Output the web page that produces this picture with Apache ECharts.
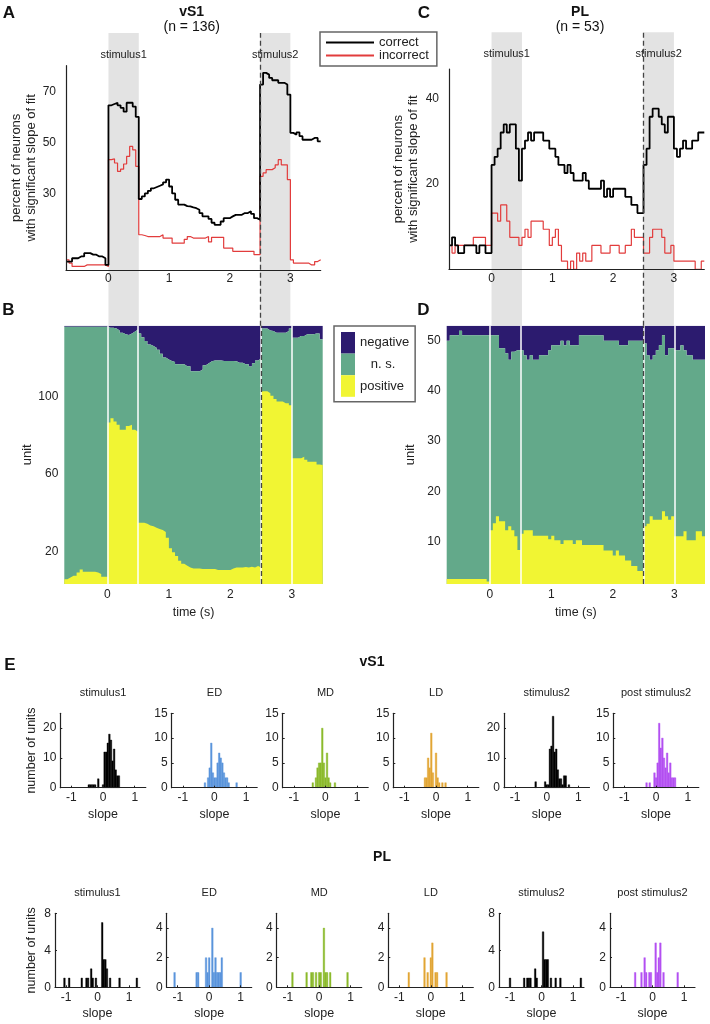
<!DOCTYPE html>
<html><head><meta charset="utf-8">
<script src="https://cdn.jsdelivr.net/npm/echarts@6/dist/echarts.min.js"></script>
<style>html,body{margin:0;padding:0;background:#fff}#c{width:710px;height:1024px}</style>
</head><body><div id="c"></div>
<script>
// ---------- time bins (bin starts, 50 ms) ----------
const binStarts = Array.from({length: 84}, (_, i) => Math.round((-0.7 + 0.05 * i) * 100) / 100);
const tEnd = 3.5;
const timeTicks = [0, 1, 2, 3];
const stimWindows = [[0, 0.5], [2.5, 3.0]];
const stimNames = ['stimulus1', 'stimulus2'];
const stim2Onset = 2.5;
const heatBoundaries = [0, 0.5, 2.5, 3.0];

// ---------- panel A (vS1, percent significant) ----------
const vS1Correct = [3.3,3.3,4.6,4.6,5.3,5.3,6.6,6.6,6,6,5.3,5.3,4.6,2,
  64.5,65,65.5,64.5,63.5,62,65.5,65.5,64,60,
  27.8,28.8,30,31,32,32.5,33,33.5,34.3,35.4,
  32.7,30,27.5,25.6,25.6,25,24.9,24.5,24.2,23.6,
  22.3,21,21,20,18.5,17.7,17.7,19,20.3,20.3,
  21,21.6,21.6,21.6,22.3,22.3,23,22,20.3,19.7,
  72.6,77.2,76.5,75.2,74.3,74.3,73.3,73.3,72.6,68.7,
  53.7,53,53.9,52.4,51,51,51,51.7,51.7,50.4];
const vS1Incorrect = [4,2.7,1.4,1.4,1.4,1.4,2,2,2,2,2,2,2,1.4,
  43.2,43.5,41.9,38.6,39.5,41.5,44.5,48.4,47,40.6,
  13.8,13.5,13.1,13.1,13.1,13.1,13.1,13.8,12.5,12.5,
  12.5,10.5,10.5,10.5,10.5,12,13.1,12.5,12.5,12.5,
  12.5,12.5,13.1,11,12.8,12.8,12.8,12.8,8.6,8.6,
  8.6,7.3,7.3,7.3,7.3,7.3,7.3,7.3,6,6,
  36.7,38,39.3,39.3,40,41.2,43.2,41.2,41.2,35.4,
  4,2.7,2.7,2.7,2.7,2.7,2,2,3.3,4];
const vS1PctTicks = [30, 50, 70];

// ---------- panel C (PL, percent significant) ----------
const plCorrect = [5.6,7.5,5.6,3.8,3.8,5.6,5.6,5.6,5.6,3.8,5.6,5.6,3.8,3.8,
  24.5,26.4,28.3,32.1,34,32.1,34,34,28.3,20.8,
  28.3,30.2,32.1,30.2,32.1,32.1,32.1,30.2,30.2,28.3,
  28.3,26.4,24.5,24.5,22.6,24.5,22.6,20.8,20.8,20.8,
  22.6,20.8,18.9,18.9,18.9,18.9,20.8,17,18.9,17,
  18.9,18.9,18.9,18.9,17,17,15.1,15.1,13.2,13.2,
  24.5,28.3,35.8,37.7,37.7,35.8,34,32.1,35.8,35.8,
  28.3,26.4,28.3,30.2,28.3,28.3,30.2,30.2,32.1,32.1];
const plIncorrect = [5.6,3.8,5.6,5.6,5.6,5.6,5.6,5.6,7.5,7.5,7.5,7.5,5.6,5.6,
  13.2,13.2,11.3,15.1,15.1,11.3,7.5,7.5,7.5,5.6,
  7.5,9.4,7.5,11.3,11.3,11.3,11.3,9.4,9.4,5.6,
  7.5,9.4,5.6,1.9,1.9,0,1.9,0,3.8,1.9,
  3.8,1.9,1.9,5.6,5.6,5.6,3.8,3.8,3.8,5.6,
  5.6,5.6,3.8,3.8,5.6,5.6,9.4,7.5,7.5,7.5,
  3.8,3.8,7.5,9.4,9.4,9.4,7.5,3.8,3.8,5.6,
  1.9,1.9,1.9,1.9,1.9,1.9,1.9,0,0,1.9];
const plPctTicks = [20, 40];

// ---------- panel B (vS1 units): boundaries on the unit axis ----------
const vS1PosTop = [5.4,6.4,7.3,7.3,9,10.5,9.4,9.4,9.4,9.4,9,8.2,6.8,6.8,
  86.8,89,87.3,85.6,83,83,85,85.6,83,82,
  34.8,34.8,34.3,33.4,33,32.2,31.5,31,30,27,
  21.5,19.5,17.5,15,13.5,12.5,11.5,11,11,11,
  10.8,10.8,10.8,10.8,10.8,10.3,10.3,10.3,10.3,10.3,
  11,11.5,11.5,11.5,11.8,11.5,12,11.5,12.3,11.5,
  103,103,102,100.7,99,97.7,97.7,96.8,96.8,95.7,
  68.2,68.2,68.2,69,67.5,66.4,66.4,66.4,65,64.7];
const vS1NegBottom = [136.5,136.5,136.5,136.5,136.5,136.5,136.5,136.5,136.5,136.5,136.5,136.5,136.5,136.5,
  136,136,135.5,134.5,133.4,132.5,132.2,133,134,135,
  133,131,129,127.3,126.5,125.6,124.5,122.5,120.5,119.5,
  118.7,118.2,117,117,117,116,116,113.4,113.4,113.4,
  114.3,116.5,117.5,118.5,119,119,119,118.7,118.7,118.7,
  118.7,118.5,117.8,117.8,117,117,115.8,117.5,119,120,
  135.5,135.5,134.5,134.3,133.4,133.4,133.4,133.4,134.3,135.5,
  130.8,130.8,131.7,131.7,132.5,132.5,132.5,133,133,130];
const vS1UnitTicks = [20, 60, 100];

// ---------- panel D (PL units) ----------
const plPosTop = [2.5,2.5,2.5,2.5,2.5,2.5,2.5,2.5,2.5,2.5,2.5,2.5,2.5,2.0,
  12.2,13.6,15,14,14,12.2,13,12.2,11,8.3,
  11.5,12.2,12.2,12.2,11.1,11.1,11.1,11.1,11.1,10.4,
  11.1,10.2,10.2,9.5,10.2,10.2,10.2,9.5,10.2,10.2,
  9.3,9.3,9.3,9.3,9.3,9.3,9.3,8.2,8.2,8.2,
  7.2,8.2,7.2,7.2,6.2,6.2,5.1,5.1,4.1,4.1,
  13,13.5,15,14.3,14.3,14.3,16,15,14.3,15,
  11,11,11,12,10.2,10.2,10.2,12,12,11];
const plNegBottom = [50,51.1,51.1,51.1,52,51.1,51.1,51.1,51.1,51.1,51.1,51.1,51.1,51.1,
  51.1,51.1,51.1,48.5,48.5,47.5,46.2,47.8,48.1,48.1,
  48.1,47.1,46.2,47.1,46.2,46.2,47.1,47.1,47.1,48.1,
  49.1,49.1,49.1,50,49.1,50,49.1,49.1,49.1,51.1,
  51.1,51.1,51.1,51.1,51.1,51.1,51.1,50,50,50,
  50,50,49.1,49.1,49.1,50,50,50,50,50,
  49.5,47.1,46.2,47.1,48.1,49.1,51.1,47.1,48.5,48.5,
  48.1,48.1,49.1,48.1,47.1,47.1,46.2,46.2,46.2,46.2];
const plUnitTicks = [10, 20, 30, 40, 50];

// ---------- panel E histograms: [slope bin centre, number of units] ----------
const histTitles = ['stimulus1', 'ED', 'MD', 'LD', 'stimulus2', 'post stimulus2'];
const slopeTicks = [-1, 0, 1];
const vS1_stim1 = [[-0.45,1],[-0.4,1],[-0.35,1],[-0.3,1],[-0.25,1],[-0.15,3],[0,1],[0.05,12],[0.1,12],[0.15,15],[0.2,18],[0.25,16],[0.3,9],[0.35,13],[0.4,6],[0.45,4],[0.5,4]];
const vS1_ED = [[-0.3,1],[-0.2,2],[-0.15,4],[-0.1,9],[-0.05,3],[0,2],[0.05,2],[0.1,5],[0.15,7],[0.2,6],[0.25,5],[0.3,3],[0.35,2],[0.4,2],[0.45,1],[0.7,1]];
const vS1_MD = [[-0.4,1],[-0.3,2],[-0.25,4],[-0.2,5],[-0.15,5],[-0.1,12],[-0.05,5],[0,2],[0.05,7],[0.1,2],[0.15,1],[0.3,1]];
const vS1_LD = [[-0.35,2],[-0.3,2],[-0.25,6],[-0.2,4],[-0.15,11],[-0.1,3],[0,7],[0.05,2],[0.1,1],[0.2,1],[0.3,1]];
const vS1_stim2 = [[-0.35,2],[-0.05,2],[0,1],[0.05,1],[0.1,13],[0.15,14],[0.2,24],[0.25,12],[0.3,13],[0.35,6],[0.4,3],[0.45,3],[0.5,1],[0.55,4],[0.6,4],[0.7,1]];
const vS1_post = [[-0.3,1],[-0.2,1],[-0.05,3],[0,2],[0.05,5],[0.1,13],[0.15,8],[0.2,10],[0.25,6],[0.3,4],[0.35,7],[0.4,3],[0.45,5],[0.5,2],[0.55,2],[0.6,2]];
const pl_stim1 = [[-1.05,1],[-0.9,1],[-0.5,1],[-0.35,1],[-0.3,1],[-0.2,2],[-0.15,1],[-0.05,1],[0.15,7],[0.2,3],[0.25,3],[0.3,2],[0.4,1],[0.7,1],[1.25,1]];
const pl_ED = [[-1.1,1],[-0.4,1],[-0.35,1],[-0.1,2],[-0.05,1],[0,2],[0.1,4],[0.15,1],[0.2,2],[0.25,1],[0.3,1],[0.35,1],[0.4,2],[1.0,1]];
const pl_MD = [[-0.85,1],[-0.4,1],[-0.25,1],[-0.2,1],[-0.1,1],[0,1],[0.05,1],[0.15,4],[0.2,1],[0.25,1],[0.35,1],[0.9,1]];
const pl_LD = [[-0.7,1],[-0.2,2],[-0.1,1],[0,2],[0.05,3],[0.15,1],[0.2,1],[0.5,1]];
const pl_stim2 = [[-1.0,1],[-0.55,1],[-0.45,1],[-0.4,1],[-0.35,1],[-0.2,2],[-0.15,1],[0.05,6],[0.1,3],[0.15,3],[0.2,3],[0.3,1],[0.45,1],[0.6,1],[1.25,1]];
const pl_post = [[-0.55,1],[-0.35,1],[-0.25,2],[-0.2,1],[-0.1,1],[-0.05,1],[0.1,3],[0.15,1],[0.2,2],[0.25,3],[0.35,1],[0.8,1]];
const vS1HistYMax = [25, 15, 15, 15, 25, 15];
const vS1HistYTicks = [[0,10,20],[0,5,10,15],[0,5,10,15],[0,5,10,15],[0,10,20],[0,5,10,15]];
const plHistYMax = [8, 5, 5, 5, 8, 5];
const plHistYTicks = [[0,4,8],[0,2,4],[0,2,4],[0,2,4],[0,4,8],[0,2,4]];

// ---------- styling ----------
const FF = '"Liberation Sans", Arial, Helvetica, sans-serif';
const TXT = '#222';
const NAVY = '#2c1b6f', GREEN = '#63a98a', YELLOW = '#f1f533', SHADE = '#e3e3e3';
const RED = '#e23c3c';
const histColors = ['#000000', '#5b95dc', '#8cba2c', '#e2a635', '#000000', '#b450f2'];
const binHalf = 0.025;

function stepData(vals) {
  return binStarts.map((t, i) => [t, vals[i]]).concat([[tEnd, vals[vals.length - 1]]]);
}

const grids = [], xAxes = [], yAxes = [], series = [], graphics = [];
function addGrid(g) { grids.push(Object.assign({outerBoundsMode: 'none', containLabel: false}, g)); return grids.length - 1; }
const axLine = {show: true, onZero: false, lineStyle: {color: TXT, width: 1.2}};

// ---- A / C line panels ----
function linePanel(g, yMax, yTicks, correct, incorrect, nameGap) {
  const gi = addGrid(g);
  xAxes.push({gridIndex: gi, type: 'value', min: -0.7, max: 3.5, z: 5,
    axisLine: axLine, axisTick: {show: false}, splitLine: {show: false},
    axisLabel: {customValues: timeTicks, margin: 3, fontSize: 12, color: TXT, fontFamily: FF}});
  yAxes.push({gridIndex: gi, type: 'value', min: 0, max: yMax, z: 5,
    axisLine: axLine, axisTick: {show: false}, splitLine: {show: false},
    axisLabel: {customValues: yTicks, margin: 10, fontSize: 12, color: TXT, fontFamily: FF},
    name: 'percent of neurons\nwith significant slope of fit', nameLocation: 'middle', nameGap: nameGap,
    nameTextStyle: {fontSize: 13, lineHeight: 15, color: TXT, fontFamily: FF}});
  series.push({name: 'incorrect', type: 'line', step: 'end', xAxisIndex: gi, yAxisIndex: gi, symbol: 'none', z: 3,
    data: stepData(incorrect), lineStyle: {color: RED, width: 1.2}, itemStyle: {color: RED}});
  series.push({name: 'correct', type: 'line', step: 'end', xAxisIndex: gi, yAxisIndex: gi, symbol: 'none', z: 4,
    data: stepData(correct), lineStyle: {color: '#000', width: 1.8}, itemStyle: {color: '#000'}});
}
linePanel({left: 66, top: 65.7, width: 254.7, height: 204.3}, 80, vS1PctTicks, vS1Correct, vS1Incorrect, 27);
linePanel({left: 449, top: 69, width: 255.3, height: 200.3}, 47, plPctTicks, plCorrect, plIncorrect, 28.5);

// ---- B / D unit panels ----
function unitPanel(g, yMin, yMax, yTicks, posTop, negBottom, nameGap) {
  const gi = addGrid(g);
  xAxes.push({gridIndex: gi, type: 'value', min: -0.7, max: 3.5,
    axisLine: {show: false}, axisTick: {show: false}, splitLine: {show: false},
    axisLabel: {customValues: timeTicks, margin: 5, fontSize: 12, color: TXT, fontFamily: FF},
    name: 'time (s)', nameLocation: 'middle', nameGap: 22,
    nameTextStyle: {fontSize: 12.5, color: TXT, fontFamily: FF}});
  yAxes.push({gridIndex: gi, type: 'value', min: yMin, max: yMax,
    axisLine: {show: false}, axisTick: {show: false}, splitLine: {show: false},
    axisLabel: {customValues: yTicks, margin: 6, fontSize: 12, color: TXT, fontFamily: FF},
    name: 'unit', nameLocation: 'middle', nameGap: nameGap,
    nameTextStyle: {fontSize: 13, color: TXT, fontFamily: FF}});
  const common = {type: 'line', step: 'end', xAxisIndex: gi, yAxisIndex: gi, symbol: 'none', silent: true, lineStyle: {width: 0}};
  series.push(Object.assign({}, common, {name: 'negative', data: stepData(negBottom), z: 2,
    itemStyle: {color: NAVY}, areaStyle: {color: NAVY, opacity: 1, origin: 'end'}}));
  series.push(Object.assign({}, common, {name: 'n. s.', data: stepData(negBottom), z: 2,
    itemStyle: {color: GREEN}, areaStyle: {color: GREEN, opacity: 1, origin: 'start'}}));
  const ml = heatBoundaries.map(x => ({xAxis: x, lineStyle: {color: '#ffffff', type: 'solid', width: 1.5}}));
  ml.push({xAxis: stim2Onset, lineStyle: {color: '#444', type: [5, 3], width: 1.3}});
  series.push(Object.assign({}, common, {name: 'positive', data: stepData(posTop), z: 2,
    itemStyle: {color: YELLOW}, areaStyle: {color: YELLOW, opacity: 1, origin: 'start'},
    markLine: {silent: true, symbol: 'none', label: {show: false}, data: ml}}));
}
unitPanel({left: 64.3, top: 325.7, width: 258.4, height: 258.3}, 3, 137, vS1UnitTicks, vS1PosTop, vS1NegBottom, 25);
unitPanel({left: 446.7, top: 325.7, width: 258.3, height: 258.3}, 1.5, 53, plUnitTicks, plPosTop, plNegBottom, 30);

// ---- overlays: stimulus shading + dashed onset line above B / D ----
function overlay(g) {
  const gi = addGrid(g);
  xAxes.push({gridIndex: gi, type: 'value', min: -0.7, max: 3.5, show: false});
  yAxes.push({gridIndex: gi, type: 'value', min: 0, max: 1, show: false});
  series.push({type: 'line', xAxisIndex: gi, yAxisIndex: gi, data: [], z: 1, silent: true,
    markArea: {silent: true, itemStyle: {color: SHADE},
      label: {show: true, position: 'insideTop', distance: 16, fontSize: 11, color: TXT, fontFamily: FF},
      data: stimWindows.map((w, k) => [{name: stimNames[k], xAxis: w[0]}, {xAxis: w[1]}])},
    markLine: {silent: true, symbol: 'none', label: {show: false},
      lineStyle: {color: '#444', type: [5, 3], width: 1.3}, data: [{xAxis: stim2Onset}]}});
}
overlay({left: 66, top: 33, width: 254.7, height: 292.7});
overlay({left: 449, top: 32.3, width: 255.3, height: 293.4});

// ---- E histograms ----
function histPanel(g, data, color, yMax, yTicks, yName, yNameGap, title, titleY) {
  const gi = addGrid(g);
  xAxes.push({gridIndex: gi, type: 'value', min: -1.35, max: 1.35, z: 5,
    axisLine: axLine,
    axisTick: {show: true, inside: true, length: 2, customValues: slopeTicks, lineStyle: {color: TXT}},
    splitLine: {show: false},
    axisLabel: {customValues: slopeTicks, margin: 4, fontSize: 12, color: TXT, fontFamily: FF},
    name: 'slope', nameLocation: 'middle', nameGap: 20,
    nameTextStyle: {fontSize: 12.5, color: TXT, fontFamily: FF}});
  yAxes.push({gridIndex: gi, type: 'value', min: 0, max: yMax, z: 5,
    axisLine: axLine,
    axisTick: {show: true, inside: true, length: 2, customValues: yTicks, lineStyle: {color: TXT}},
    splitLine: {show: false},
    axisLabel: {customValues: yTicks, margin: 4, fontSize: 12, color: TXT, fontFamily: FF},
    name: yName, nameLocation: 'middle', nameGap: yNameGap,
    nameTextStyle: {fontSize: 12.5, color: TXT, fontFamily: FF}});
  series.push({type: 'custom', xAxisIndex: gi, yAxisIndex: gi, data: data, silent: true, z: 2,
    renderItem: function (params, api) {
      const x = api.value(0), c = api.value(1);
      const p0 = api.coord([x - binHalf, 0]);
      const p1 = api.coord([x + binHalf, c]);
      return {type: 'rect', shape: {x: p0[0], y: p1[1], width: p1[0] - p0[0], height: p0[1] - p1[1]},
        style: {fill: color, stroke: color, lineWidth: 0.4}};
    }});
  graphics.push({type: 'text', x: g.left + g.width / 2, y: titleY,
    style: {text: title, font: '11px ' + FF, fill: TXT, align: 'center', verticalAlign: 'middle', textAlign: 'center', textVerticalAlign: 'middle'}});
}
const topLefts = [60.3, 171.7, 282.7, 393.3, 504, 613.3];
const botLefts = [55, 166.7, 276.7, 388.3, 499, 610];
const vS1Hists = [vS1_stim1, vS1_ED, vS1_MD, vS1_LD, vS1_stim2, vS1_post];
const plHists = [pl_stim1, pl_ED, pl_MD, pl_LD, pl_stim2, pl_post];
for (let k = 0; k < 6; k++) {
  histPanel({left: topLefts[k], top: 713.3, width: 85.5, height: 74.4}, vS1Hists[k], histColors[k],
    vS1HistYMax[k], vS1HistYTicks[k], k === 0 ? 'number of units' : '', 22, histTitles[k], 693.3);
}
for (let k = 0; k < 6; k++) {
  histPanel({left: botLefts[k], top: 913.3, width: 85, height: 74}, plHists[k], histColors[k],
    plHistYMax[k], plHistYTicks[k], k === 0 ? 'number of units' : '', 17, histTitles[k], 892.5);
}

// ---- free texts ----
function txt(text, x, y, font) {
  graphics.push({type: 'text', x: x, y: y, z: 100,
    style: {text: text, font: font, fill: '#111', align: 'center', verticalAlign: 'middle', textAlign: 'center', textVerticalAlign: 'middle'}});
}
txt('A', 9, 13.5, 'bold 17px ' + FF);
txt('B', 8.5, 310, 'bold 17px ' + FF);
txt('C', 424, 13.5, 'bold 17px ' + FF);
txt('D', 423.5, 310, 'bold 17px ' + FF);
txt('E', 10, 665, 'bold 17px ' + FF);
txt('vS1', 191.7, 11.7, 'bold 14px ' + FF);
txt('(n = 136)', 191.7, 26.7, '14px ' + FF);
txt('PL', 580, 11.7, 'bold 14px ' + FF);
txt('(n = 53)', 580, 26.7, '14px ' + FF);
txt('vS1', 372, 662, 'bold 14px ' + FF);
txt('PL', 382, 857, 'bold 14px ' + FF);

const chart = echarts.init(document.getElementById('c'), null, {renderer: 'canvas'});
chart.setOption({
  animation: false,
  backgroundColor: '#ffffff',
  textStyle: {fontFamily: FF},
  grid: grids, xAxis: xAxes, yAxis: yAxes, series: series,
  legend: [
    {data: ['correct', 'incorrect'], left: 320, top: 32, orient: 'vertical', selectedMode: false,
      padding: [4, 8, 4, 5], itemWidth: 48, itemHeight: 12, itemGap: 0,
      itemStyle: {opacity: 0},
      borderColor: '#666', borderWidth: 1.5, backgroundColor: '#fff', z: 20,
      textStyle: {fontSize: 13, lineHeight: 13, color: TXT, fontFamily: FF}},
    {data: ['negative', 'n. s.', 'positive'], left: 334, top: 326, orient: 'vertical', selectedMode: false,
      icon: 'rect', padding: [6, 6, 5, 7], itemWidth: 14, itemHeight: 21.6, itemGap: 0,
      borderColor: '#666', borderWidth: 1.5, backgroundColor: '#fff', z: 20,
      formatter: function (n) { return n === 'n. s.' ? '   n. s.' : n; },
      textStyle: {fontSize: 13, color: TXT, fontFamily: FF}}
  ],
  graphic: graphics
});
</script>
</body></html>
